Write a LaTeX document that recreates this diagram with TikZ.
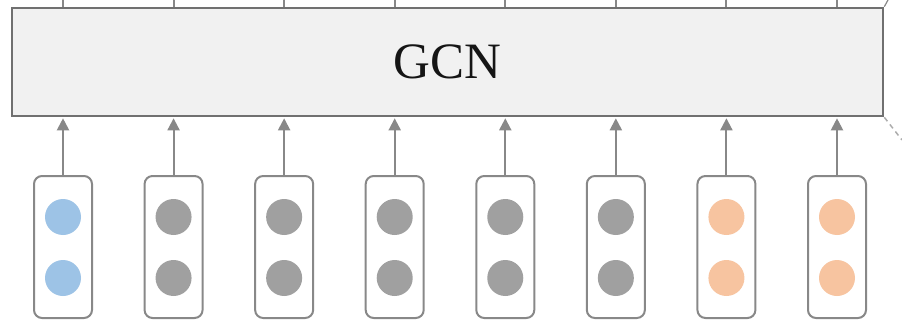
\documentclass[tikz,border=0pt]{standalone}
\usepackage{fontspec}
\setmainfont{Liberation Serif}
\usetikzlibrary{arrows.meta}
\definecolor{linegray}{HTML}{888888}
\definecolor{framegray}{HTML}{707070}
\definecolor{boxfill}{HTML}{F1F1F1}
\definecolor{dotblue}{HTML}{9DC3E6}
\definecolor{dotgray}{HTML}{A0A0A0}
\definecolor{dotorange}{HTML}{F7C4A0}
\definecolor{textdark}{HTML}{151515}
\begin{document}
\begin{tikzpicture}[x=1pt,y=-1pt,
  gcnbox/.style={draw=framegray, line width=2.6pt, fill=boxfill,
    minimum width=871pt, minimum height=108pt, inner sep=0pt,
    text=textdark, font=\fontsize{51}{51}\selectfont},
  vecbox/.style={draw=linegray, line width=2pt, rounded corners=8pt,
    fill=white, minimum width=58pt, minimum height=142pt, inner sep=0pt},
  dot/.style={circle, minimum size=36pt, inner sep=0pt},
  uparrow/.style={draw=linegray, line width=2pt,
    -{Triangle[length=12pt,width=12pt]}, shorten >=1pt},
  link/.style={draw=linegray, line width=2pt},
  guide/.style={draw=linegray!70, line width=1.5pt, dash pattern=on 5pt off 4pt}]
\useasboundingbox (0,0) rectangle (902,321);

% GCN layer
\node[gcnbox] (gcn) at (447.5,62) {GCN};

% input vectors with arrows into the layer, and outputs leaving it upwards
\foreach \i/\c in {0/dotblue,1/dotgray,2/dotgray,3/dotgray,4/dotgray,5/dotgray,6/dotorange,7/dotorange}{
  \pgfmathsetmacro{\xx}{63+110.57*\i}
  \node[vecbox] (v\i) at (\xx,247) {};
  \node[dot, fill=\c] (a\i) at (\xx,217) {};
  \node[dot, fill=\c] (b\i) at (\xx,278) {};
  \coordinate (top\i) at (\xx,0);
  \draw[uparrow] (v\i.north) -- (v\i.north |- gcn.south);
  \draw[link] (gcn.north -| top\i) -- (top\i);
}

% zoom guide lines at the right edge
\coordinate (gtop) at (888,0);
\coordinate (gbot) at (902,140);
\draw[link, line width=1.2pt] (gcn.north east) -- (gtop);
\draw[guide] (gcn.south east) -- (gbot);
\end{tikzpicture}
\end{document}
